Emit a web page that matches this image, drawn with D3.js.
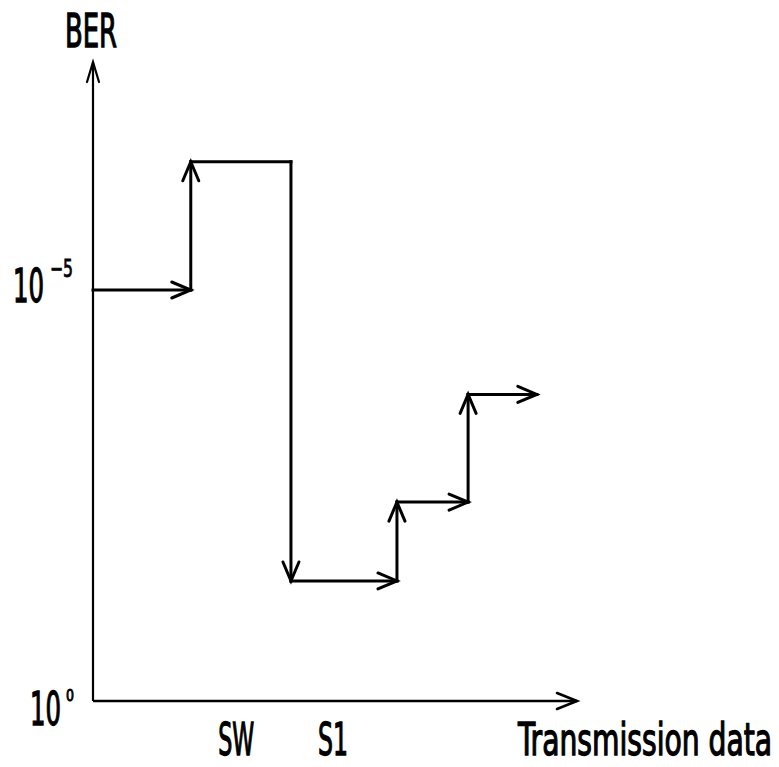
<!DOCTYPE html>
<html>
<head>
<meta charset="utf-8">
<script src="https://cdn.jsdelivr.net/npm/d3@7"></script>
<style>
  html, body { margin: 0; padding: 0; background: #fff; }
  svg { display: block; }
  text { font-family: "Liberation Sans Narrow", "DejaVu Sans Condensed", "Liberation Sans", sans-serif; fill: #000; stroke: #000; stroke-width: 1.3; font-weight: normal; }
</style>
</head>
<body>
<svg id="chart" width="779" height="767"></svg>
<script>
// ---- data ----
// x: transmission data position (arbitrary units 0..100), e: BER exponent (10^e)
const stepX = [0, 20.2, 20.2, 40.9, 40.9, 62.8, 62.8, 77.5, 77.5, 91.7];
const stepE = [-5, -5, -6.56, -6.56, -1.46, -1.46, -2.42, -2.42, -3.73, -3.73];
// whether each segment (point i -> i+1) ends in an arrowhead
const segArrow = [true, true, false, true, true, true, true, true, true];
const yTickExp = [-5, 0];
const xTickLabels = ["SW", "S1"];
const xTickPos = [29.6, 49.6];
const yAxisTitle = "BER";
const xAxisTitle = "Transmission data";

// ---- scales ----
const x = d3.scaleLinear().domain([0, 100]).range([93, 577]);
const y = d3.scaleLinear().domain([0, -5]).range([701, 290]);

const svg = d3.select("#chart");

function arrowHead(g, x1, y1, x0, y0, len, half, sw) {
  const dx = x1 - x0, dy = y1 - y0, L = Math.hypot(dx, dy);
  const ux = dx / L, uy = dy / L, px = -uy, py = ux;
  const bx = x1 - ux * len, by = y1 - uy * len;
  g.append("path")
    .attr("d", `M${bx + px * half},${by + py * half}L${x1},${y1}L${bx - px * half},${by - py * half}`)
    .attr("fill", "none").attr("stroke", "#000").attr("stroke-width", sw)
    .attr("stroke-linejoin", "miter").attr("stroke-linecap", "round");
}

// ---- axes ----
const axes = svg.append("g");
const x0 = x(0), yTop = 62, y0 = y(0);
axes.append("line").attr("x1", x0).attr("y1", y0).attr("x2", x0).attr("y2", yTop)
  .attr("stroke", "#000").attr("stroke-width", 2.2);
arrowHead(axes, x0, yTop, x0, y0, 20, 6, 2.2);
axes.append("line").attr("x1", x0).attr("y1", y0).attr("x2", x(100)).attr("y2", y0)
  .attr("stroke", "#000").attr("stroke-width", 2.6);
arrowHead(axes, x(100), y0, x0, y0, 20, 8, 2.6);

// ---- step path ----
const gp = svg.append("g");
for (let i = 0; i < stepX.length - 1; i++) {
  const xa = x(stepX[i]), ya = y(stepE[i]), xb = x(stepX[i + 1]), yb = y(stepE[i + 1]);
  gp.append("line").attr("x1", xa).attr("y1", ya).attr("x2", xb).attr("y2", yb)
    .attr("stroke", "#000").attr("stroke-width", 3).attr("stroke-linecap", "square");
  if (segArrow[i]) arrowHead(gp, xb, yb, xa, ya, 19, 8, 3);
}

// ---- texts ----
function txt(s, tx, ty, size, width, anchor) {
  const t = svg.append("text").attr("x", tx).attr("y", ty).attr("font-size", size)
    .attr("text-anchor", anchor || "start").text(s);
  if (width) t.attr("textLength", width).attr("lengthAdjust", "spacingAndGlyphs");
  return t;
}
txt(yAxisTitle, 91, 47, 47, 52, "middle");

// y tick labels 10^e
const yLab = [
  { base: [44, y(yTickExp[0]) + 12, 31], sup: ["\u22125", 50, y(yTickExp[0]) - 13, 24, 23] },
  { base: [61, y(yTickExp[1]) + 24, 31], sup: ["0", 66, y(yTickExp[1]), 15, 8] }
];
yLab.forEach(l => {
  txt("10", l.base[0], l.base[1], 47, l.base[2], "end");
  txt(l.sup[0], l.sup[1], l.sup[2], l.sup[3], l.sup[4]).style("stroke-width", 0.8);
});

// x tick labels
xTickLabels.forEach((s, i) => {
  const w = s === "SW" ? 36 : 30;
  txt(s, x(xTickPos[i]), 755, 45, w, "middle");
});
txt(xAxisTitle, 772, 755, 45, 254, "end");
</script>
</body>
</html>
